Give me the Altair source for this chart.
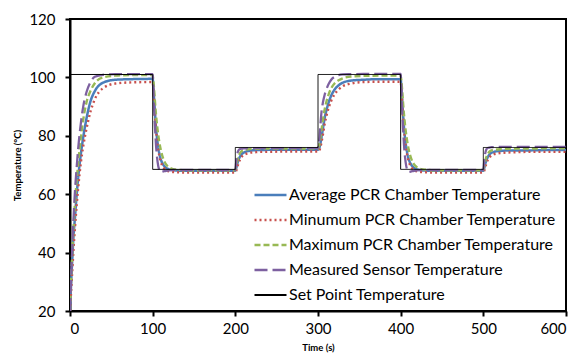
import altair as alt
import pandas as pd

TIME = [0, 1, 2, 3, 4, 6, 8, 10, 13, 16, 20, 25, 30, 40, 55, 75,
        100, 101, 102, 103, 104, 106, 108, 110, 113, 116, 120, 125, 130, 140, 155, 175,
        200, 201, 202, 203, 204, 206, 208, 210, 213, 216, 220, 225, 230, 240, 255, 275,
        300, 301, 302, 303, 304, 306, 308, 310, 313, 316, 320, 325, 330, 340, 355, 375,
        400, 401, 402, 403, 404, 406, 408, 410, 413, 416, 420, 425, 430, 440, 455, 475,
        500, 501, 502, 503, 504, 506, 508, 510, 513, 516, 520, 525, 530, 540, 555, 575,
        600]

AVG = [20, 27, 33.5, 39, 44.5, 52, 59.5, 66, 73.5, 79.5, 86, 92, 95.3, 98.2, 99.2, 99.4,
       99.5, 96, 91.5, 87, 83, 77.5, 74, 71.8, 70, 69.1, 68.5, 68.2, 68.1, 68, 68, 68,
       68, 68.8, 70, 71, 71.9, 73, 73.8, 74.2, 74.6, 74.8, 75, 75.1, 75.1, 75.2, 75.2, 75.2,
       75.2, 75.4, 76.2, 77.5, 79, 82.5, 86, 88.5, 91.5, 93.8, 95.8, 97.3, 98.2, 98.9, 99.2, 99.4,
       99.4, 96, 91.5, 87, 83, 77.5, 74, 71.8, 70, 69.1, 68.5, 68.2, 68.1, 68, 68, 68,
       68, 68.8, 70, 71, 71.9, 73, 73.8, 74.2, 74.5, 74.7, 74.8, 74.9, 75, 75, 75, 75.1,
       75.1]

MIN = [20, 25, 30, 35, 40, 48.5, 56, 62.5, 70.5, 76.5, 82.5, 88.5, 92.5, 96.3, 97.9, 98.3,
       98.4, 95.5, 91, 86.5, 82.5, 76.8, 73.3, 71, 69.2, 68.3, 67.8, 67.6, 67.5, 67.4, 67.4, 67.4,
       67.4, 67.9, 68.9, 69.9, 70.8, 72, 72.9, 73.4, 73.8, 74.1, 74.3, 74.4, 74.5, 74.5, 74.6, 74.6,
       74.6, 74.7, 75.2, 76.2, 77.5, 80.5, 84, 86.6, 89.7, 92, 94.2, 95.9, 97, 97.9, 98.4, 98.5,
       98.5, 95.5, 91, 86.5, 82.5, 76.8, 73.3, 71, 69.2, 68.3, 67.8, 67.6, 67.5, 67.4, 67.4, 67.4,
       67.4, 67.9, 68.9, 69.9, 70.8, 72, 72.8, 73.3, 73.7, 73.9, 74.1, 74.2, 74.3, 74.4, 74.5, 74.5,
       74.5]

MAX = [20, 28, 35, 41.5, 47, 57, 64.5, 71, 79, 85.5, 91.5, 95.5, 98, 100, 100.6, 100.8,
       100.8, 98.5, 95, 91, 87.5, 82, 78, 75, 72, 70.3, 69.2, 68.6, 68.4, 68.2, 68.2, 68.2,
       68.2, 69.5, 71, 72.2, 73, 74.2, 74.8, 75.1, 75.3, 75.4, 75.5, 75.5, 75.6, 75.6, 75.6, 75.6,
       75.6, 76.2, 77.5, 79.5, 81.5, 85.5, 89, 91.5, 94.3, 96.3, 97.9, 99, 99.7, 100.3, 100.5, 100.6,
       100.6, 98.5, 95, 91, 87.5, 82, 78, 75, 72, 70.3, 69.2, 68.6, 68.4, 68.2, 68.2, 68.2,
       68.2, 69.5, 71, 72.2, 73, 74.1, 74.7, 75, 75.2, 75.3, 75.4, 75.5, 75.5, 75.6, 75.6, 75.7,
       75.7]

MEAS = [20, 28, 36, 43, 50, 61, 69, 76, 84, 90, 95, 98.5, 100.2, 100.9, 101.1, 101.1,
        101.1, 95, 88, 82, 77, 71, 68.3, 67.6, 67.8, 68, 68.2, 68.3, 68.3, 68.3, 68.3, 68.3,
        68.3, 71, 73.3, 74.5, 75.1, 75.5, 75.6, 75.7, 75.7, 75.8, 75.8, 75.8, 75.8, 75.8, 75.8, 75.8,
        75.8, 77, 80, 84, 87.5, 91.5, 94, 95.8, 97.8, 99.2, 100.2, 100.8, 101, 101.1, 101.2, 101.2,
        101.2, 95, 88, 82, 77, 71, 68.3, 67.6, 67.8, 68, 68.2, 68.3, 68.3, 68.3, 68.3, 68.3,
        68.3, 71, 73.5, 74.8, 75.5, 75.9, 76, 76.1, 76.1, 76.2, 76.2, 76.2, 76.2, 76.2, 76.2, 76.2,
        76.2]

SET_TIME = [0, 100, 100, 200, 200, 300, 300, 400, 400, 500, 500, 600]
SET_TEMP = [101, 101, 68.5, 68.5, 76, 76, 101, 101, 68.5, 68.5, 76, 76]

SERIES = ["Average PCR Chamber Temperature",
          "Minumum PCR Chamber Temperature",
          "Maximum PCR Chamber Temperature",
          "Measured Sensor Temperature",
          "Set Point Temperature"]
COLORS = ["#4A7EBB", "#C8504D", "#98B954", "#7D60A0", "#000000"]
DASHES = [[1, 0], [2, 3], [6, 3], [13, 5], [1, 0]]
WIDTHS = [2.5, 2.2, 2.5, 3, 1]

rows = []
for name, vals in zip(SERIES[:4], [AVG, MIN, MAX, MEAS]):
    for t, v in zip(TIME, vals):
        rows.append({"t": t, "v": v, "s": name})
curves = pd.DataFrame(rows)
setp = pd.DataFrame({"t": SET_TIME, "v": SET_TEMP, "s": SERIES[4],
                     "o": list(range(len(SET_TIME)))})

x = alt.X("t:Q", title="Time (s)",
          scale=alt.Scale(domain=[0, 600], nice=False),
          axis=alt.Axis(values=[0, 100, 200, 300, 400, 500, 600], format="d"))
y = alt.Y("v:Q", title="Temperature (°C)",
          scale=alt.Scale(domain=[20, 120], nice=False),
          axis=alt.Axis(values=[20, 40, 60, 80, 100, 120], format="d"))
color = alt.Color("s:N", scale=alt.Scale(domain=SERIES, range=COLORS),
                  legend=alt.Legend(title=None, orient="none", legendX=183, legendY=168,
                                    symbolType="stroke", symbolSize=1024, clipHeight=16,
                                    labelFont="Lato", labelFontSize=16, labelColor="#000",
                                    labelOffset=1, rowPadding=9, padding=0,
                                    labelLimit=400))
dash = alt.StrokeDash("s:N", scale=alt.Scale(domain=SERIES, range=DASHES), legend=None)
sw = alt.StrokeWidth("s:N", scale=alt.Scale(domain=SERIES, range=WIDTHS), legend=None)

lines = alt.Chart(curves).mark_line(interpolate="monotone", clip=True).encode(
    x=x, y=y, color=color, strokeDash=dash, strokeWidth=sw, detail="s:N")
setline = alt.Chart(setp).mark_line(clip=True, strokeWidth=1).encode(
    x=x, y=y, color=color, strokeDash=dash, order="o:Q")

chart = alt.layer(lines, setline).properties(
    width=496, height=292,
    autosize=alt.AutoSizeParams(type="none"),
    padding={"left": 70, "top": 19, "right": 15, "bottom": 49},
).configure_view(stroke="#000", strokeWidth=2).configure_axis(
    grid=False, domainColor="#000", domainWidth=2, tickColor="#000", tickWidth=2,
    tickSize=5, labelFont="Lato", labelFontSize=15, labelColor="#000",
    titleFont="Lato", titleFontSize=9.5, titleFontWeight="bold", titleColor="#000",
).configure_axisY(labelPadding=10, titlePadding=6).configure_axisX(
    labelPadding=5, titlePadding=6)

chart.save("out.html", embed_options={"renderer": "svg", "actions": False})
